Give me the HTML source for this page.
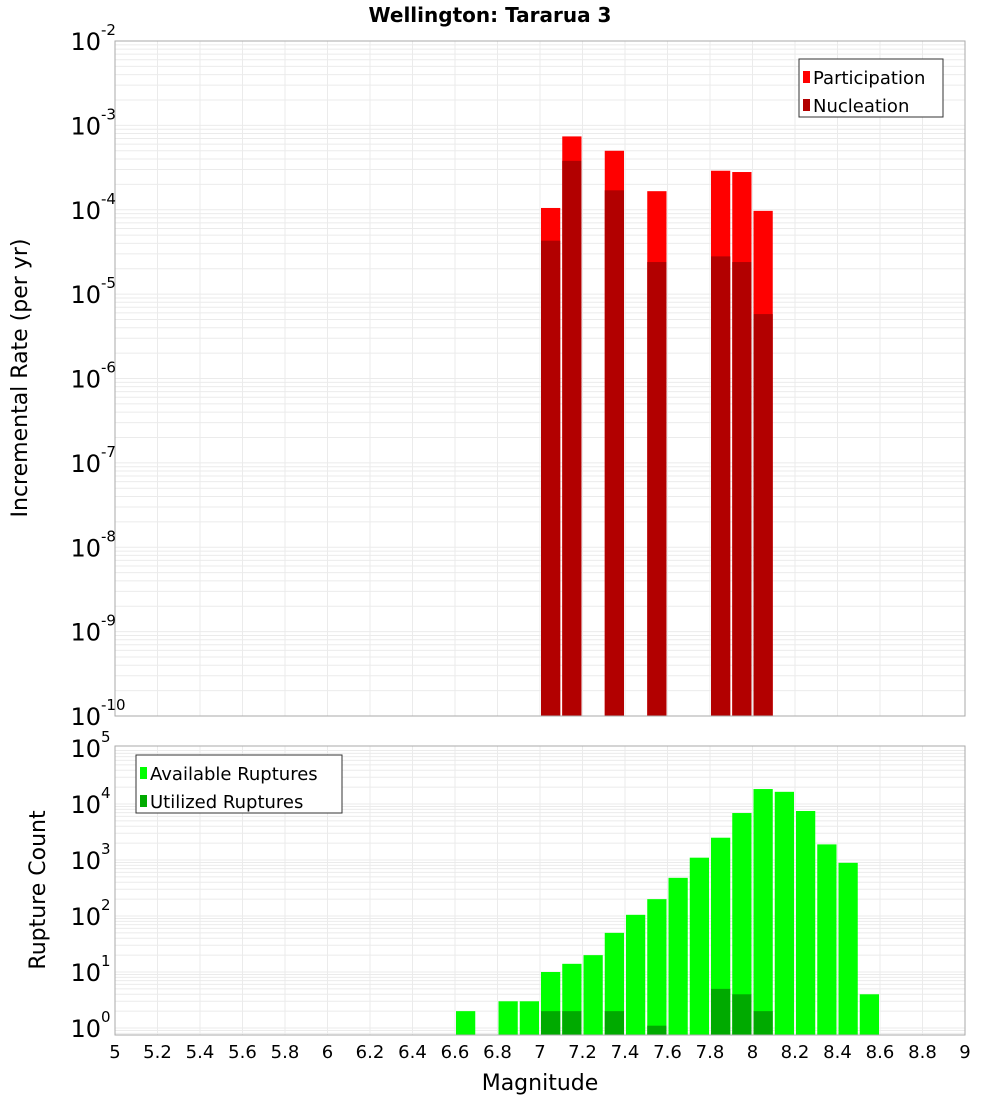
<!DOCTYPE html>
<html><head><meta charset="utf-8"><style>
html,body{margin:0;padding:0;background:#fff;}
svg{display:block;font-family:"DejaVu Sans","Liberation Sans",sans-serif;}
</style></head><body>
<svg id="c" width="1000" height="1100" viewBox="0 0 1000 1100" xmlns="http://www.w3.org/2000/svg">
<text x="490" y="22" text-anchor="middle" font-size="20" font-weight="bold">Wellington: Tararua 3</text>
<g id="top"></g>
<g id="bot"></g>
<text transform="translate(27,378) rotate(-90)" text-anchor="middle" font-size="22">Incremental Rate (per yr)</text>
<text transform="translate(45,890) rotate(-90)" text-anchor="middle" font-size="22">Rupture Count</text>
<text x="540" y="1090" text-anchor="middle" font-size="22">Magnitude</text>
</svg>
<script>
const rateMags=[7.0,7.1,7.3,7.5,7.8,7.9,8.0];
const participation=[1.05e-4,7.4e-4,5.0e-4,1.66e-4,2.9e-4,2.8e-4,9.7e-5];
const nucleation=[4.3e-5,3.8e-4,1.7e-4,2.4e-5,2.8e-5,2.4e-5,5.8e-6];
const availMags=[6.6,6.8,6.9,7.0,7.1,7.2,7.3,7.4,7.5,7.6,7.7,7.8,7.9,8.0,8.1,8.2,8.3,8.4,8.5];
const available=[2,3,3,10,14,20,50,105,200,480,1100,2500,6900,18500,16500,7500,1900,890,4];
const utilMags=[7.0,7.1,7.3,7.5,7.8,7.9,8.0];
const utilized=[2,2,2,1.1,5,4,2];
const xTicks=[5,5.2,5.4,5.6,5.8,6,6.2,6.4,6.6,6.8,7,7.2,7.4,7.6,7.8,8,8.2,8.4,8.6,8.8,9];
const rateExps=[-2,-3,-4,-5,-6,-7,-8,-9,-10];
const countExps=[5,4,3,2,1,0];

const NS='http://www.w3.org/2000/svg';
const X0=115,X1=965;
const x=m=>X0+(m-5)/4*(X1-X0);
const yTop=v=>41+(-2-Math.log10(v))*84.375;
const yBot=v=>1028-Math.log10(v)*56;
function mk(p,tag,a){const e=document.createElementNS(NS,tag);for(const k in a)e.setAttribute(k,a[k]);p.appendChild(e);return e;}

function panel(g,top,bottom,yf,lo,hi,name){
  // grid
  for(let d=lo;d<hi;d++){for(let k=1;k<10;k++){const v=k*Math.pow(10,d);const yy=yf(v);if(yy<top||yy>bottom)continue;
    const l=mk(g,'line',{x1:X0,x2:X1,y1:yy,y2:yy,stroke:'#ebebeb','stroke-width':1});
    
    }}
  xTicks.forEach(t=>{const l=mk(g,'line',{x1:x(t),x2:x(t),y1:top,y2:bottom,stroke:'#ebebeb','stroke-width':1});
    
    });
}
const gt=document.getElementById('top'),gb=document.getElementById('bot');
panel(gt,41,716,yTop,-10,-2,'rate');
panel(gb,746,1035,yBot,-1,5,'count');

function bars(g,mags,vals,yf,base,color,name){
  mags.forEach((m,i)=>{const y0=yf(vals[i]);const r=mk(g,'rect',{x:x(m)+1,y:y0,width:x(m+0.1)-x(m)-2,height:base-y0,fill:color});
    
    });
}
bars(gt,rateMags,participation,yTop,716,'#ff0000','participation-bar');
bars(gt,rateMags,nucleation,yTop,716,'#b20000','nucleation-bar');
bars(gb,availMags,available,yBot,1035,'#00ff00','available-bar');
bars(gb,utilMags,utilized,yBot,1035,'#00aa00','utilized-bar');

[[41,716],[746,1035]].forEach(([a,b],i)=>{const r=mk(i?gb:gt,'rect',{x:X0,y:a,width:X1-X0,height:b-a,fill:'none',stroke:'#aaaaaa'});
  
  });

function ylab(g,yy,e,name){const t=mk(g,'text',{x:101,y:yy+9,'text-anchor':'end','font-size':24});t.textContent='10';
  
  
  const s=mk(g,'text',{x:101,y:yy-6,'font-size':15});s.textContent=String(e);
  
  }
rateExps.forEach(e=>ylab(gt,yTop(Math.pow(10,e)),e,'rate-y-tick'));
countExps.forEach(e=>ylab(gb,yBot(Math.pow(10,e)),e,'count-y-tick'));
xTicks.forEach(t=>{const tx=mk(gb,'text',{x:x(t),y:1058,'text-anchor':'middle','font-size':18});tx.textContent=String(t);
  
  });

function legend(g,x0,y0,w,items,name){const r=mk(g,'rect',{x:x0,y:y0,width:w,height:58,fill:'#fff',stroke:'#333'});
  
  
  items.forEach(([lab,col],i)=>{const yy=y0+19+i*28;
    const sw=mk(g,'rect',{x:x0+4,y:yy-7,width:7,height:12,fill:col});
    
    
    const t=mk(g,'text',{x:x0+14,y:yy+6,'font-size':18});t.textContent=lab;
    
    });}
legend(gt,799,59,144,[['Participation','#ff0000'],['Nucleation','#b20000']],'rate-legend');
legend(gb,136,755,206,[['Available Ruptures','#00ff00'],['Utilized Ruptures','#00aa00']],'count-legend');
</script>
</body></html>
